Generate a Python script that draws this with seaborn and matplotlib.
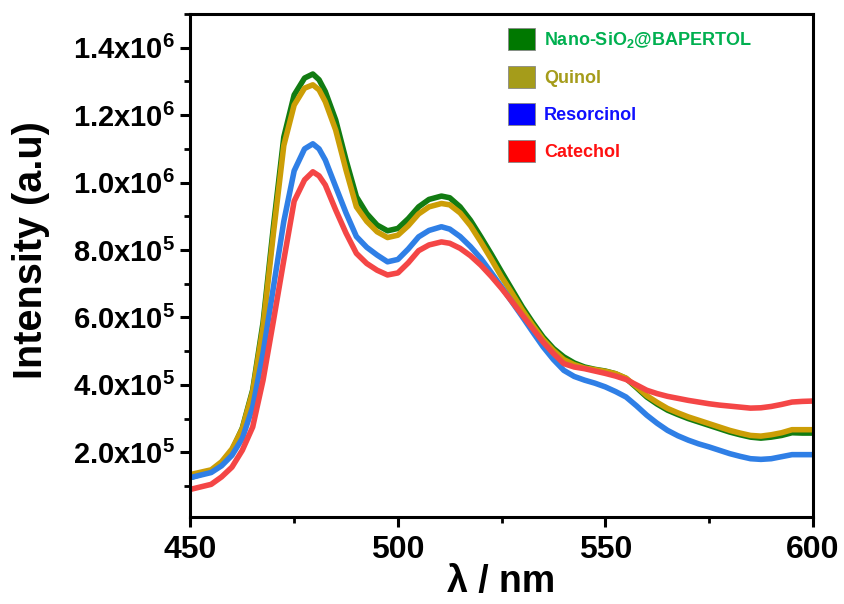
import matplotlib
matplotlib.use("Agg")
import matplotlib.pyplot as plt
from matplotlib.patches import Patch
from matplotlib.ticker import MultipleLocator, FuncFormatter
import numpy as np
import pandas as pd
import seaborn as sns

# Emission wavelengths (nm)
wavelength = [450, 455, 457.5, 460, 462.5, 465, 467.5, 470, 472.5, 475,
              477.5, 479.5, 481, 482.5, 485, 487.5, 490, 492.5, 495, 497.5,
              500, 502.5, 505, 507.5, 510.5, 512.5, 515, 517.5, 520, 522.5,
              525, 527.5, 530, 532.5, 535, 537.5, 540, 542.5, 545, 547.5,
              550, 552.5, 555, 557.5, 560, 562.5, 565, 567.5, 570, 572.5,
              575, 577.5, 580, 582.5, 585, 587.5, 590, 592.5, 595, 597.5, 600]

# Fluorescence intensity (a.u.) per sample
nano_sio2 = [1.25e5, 1.44e5, 1.65e5, 2.05e5, 2.72e5, 3.85e5, 5.85e5, 8.7e5, 1.135e6, 1.26e6,
             1.31e6, 1.322e6, 1.305e6, 1.27e6, 1.186e6, 1.067e6, 9.58e5, 9.08e5, 8.74e5, 8.57e5,
             8.64e5, 8.93e5, 9.28e5, 9.50e5, 9.60e5, 9.55e5, 9.28e5, 8.88e5, 8.39e5, 7.88e5,
             7.35e5, 6.83e5, 6.31e5, 5.85e5, 5.42e5, 5.08e5, 4.83e5, 4.65e5, 4.53e5, 4.46e5,
             4.41e5, 4.33e5, 4.19e5, 3.92e5, 3.64e5, 3.43e5, 3.25e5, 3.12e5, 3.0e5, 2.9e5,
             2.8e5, 2.7e5, 2.6e5, 2.52e5, 2.45e5, 2.42e5, 2.45e5, 2.5e5, 2.58e5, 2.57e5, 2.57e5]
quinol = [1.34e5, 1.48e5, 1.72e5, 2.1e5, 2.7e5, 3.8e5, 5.72e5, 8.5e5, 1.11e6, 1.23e6,
          1.28e6, 1.29e6, 1.275e6, 1.24e6, 1.156e6, 1.037e6, 9.28e5, 8.85e5, 8.54e5, 8.37e5,
          8.44e5, 8.72e5, 9.07e5, 9.28e5, 9.38e5, 9.34e5, 9.1e5, 8.72e5, 8.24e5, 7.73e5,
          7.2e5, 6.72e5, 6.22e5, 5.77e5, 5.35e5, 5.02e5, 4.75e5, 4.6e5, 4.5e5, 4.45e5,
          4.4e5, 4.33e5, 4.2e5, 3.95e5, 3.68e5, 3.48e5, 3.3e5, 3.17e5, 3.05e5, 2.95e5,
          2.85e5, 2.75e5, 2.65e5, 2.57e5, 2.5e5, 2.48e5, 2.52e5, 2.58e5, 2.67e5, 2.67e5, 2.67e5]
resorcinol = [1.25e5, 1.4e5, 1.6e5, 1.91e5, 2.41e5, 3.34e5, 4.94e5, 6.9e5, 8.85e5, 1.035e6,
              1.10e6, 1.115e6, 1.10e6, 1.067e6, 9.88e5, 9.1e5, 8.4e5, 8.08e5, 7.85e5, 7.65e5,
              7.72e5, 8.03e5, 8.39e5, 8.58e5, 8.69e5, 8.62e5, 8.4e5, 8.1e5, 7.75e5, 7.33e5,
              6.9e5, 6.46e5, 6.02e5, 5.57e5, 5.13e5, 4.75e5, 4.43e5, 4.25e5, 4.14e5, 4.05e5,
              3.94e5, 3.8e5, 3.64e5, 3.38e5, 3.1e5, 2.86e5, 2.65e5, 2.49e5, 2.36e5, 2.25e5,
              2.16e5, 2.06e5, 1.96e5, 1.88e5, 1.81e5, 1.79e5, 1.81e5, 1.87e5, 1.93e5, 1.93e5, 1.93e5]
catechol = [9.0e4, 1.05e5, 1.27e5, 1.56e5, 2.06e5, 2.75e5, 4.14e5, 5.9e5, 7.7e5, 9.45e5,
            1.008e6, 1.032e6, 1.02e6, 9.93e5, 9.19e5, 8.5e5, 7.9e5, 7.6e5, 7.4e5, 7.26e5,
            7.32e5, 7.62e5, 7.98e5, 8.15e5, 8.24e5, 8.2e5, 8.05e5, 7.83e5, 7.55e5, 7.22e5,
            6.86e5, 6.47e5, 6.07e5, 5.67e5, 5.27e5, 4.93e5, 4.63e5, 4.53e5, 4.48e5, 4.41e5,
            4.34e5, 4.26e5, 4.16e5, 4.0e5, 3.84e5, 3.74e5, 3.66e5, 3.6e5, 3.54e5, 3.49e5,
            3.44e5, 3.4e5, 3.37e5, 3.34e5, 3.31e5, 3.32e5, 3.36e5, 3.42e5, 3.49e5, 3.51e5, 3.52e5]

samples = ["Nano-SiO2@BAPERTOL", "Quinol", "Resorcinol", "Catechol"]
legend_labels = [r"Nano-SiO$_\mathbf{2}$@BAPERTOL", "Quinol", "Resorcinol", "Catechol"]
line_colors = ["#127c12", "#cc9e06", "#2f7fe6", "#f44646"]
patch_colors = ["#007800", "#a59c1a", "#0000ff", "#ff0000"]
text_colors = ["#00b050", "#a59c1a", "#1010ff", "#ff1010"]

frames = []
for name, vals in zip(samples, [nano_sio2, quinol, resorcinol, catechol]):
    frames.append(pd.DataFrame({"wavelength": wavelength, "intensity": vals, "sample": name}))
df = pd.concat(frames, ignore_index=True)

sns.set_theme(style="ticks")
plt.rcParams["font.family"] = ["Liberation Sans", "DejaVu Sans"]
plt.rcParams["font.weight"] = "bold"
plt.rcParams["text.color"] = "black"
plt.rcParams["axes.labelcolor"] = "black"
plt.rcParams["xtick.color"] = "black"
plt.rcParams["ytick.color"] = "black"
plt.rcParams["mathtext.fontset"] = "custom"
plt.rcParams["mathtext.rm"] = "Liberation Sans:bold"
plt.rcParams["mathtext.bf"] = "Liberation Sans:bold"
plt.rcParams["mathtext.it"] = "Liberation Sans:bold"
plt.rcParams["mathtext.default"] = "bf"

fig = plt.figure(figsize=(8.45, 6.04), dpi=100)
ax = fig.add_axes([0.2254, 0.144, 0.7364, 0.8328])

sns.lineplot(data=df, x="wavelength", y="intensity", hue="sample",
             hue_order=samples, palette=line_colors, linewidth=4.0,
             legend=False, ax=ax, sort=False)
for line in ax.get_lines():
    line.set_solid_joinstyle("round")
    line.set_solid_capstyle("round")

ax.set_xlim(450, 600)
ax.set_ylim(8e3, 1.5e6)
ax.xaxis.set_major_locator(MultipleLocator(50))
ax.xaxis.set_minor_locator(MultipleLocator(25))
ax.yaxis.set_major_locator(MultipleLocator(2e5))
ax.yaxis.set_minor_locator(MultipleLocator(1e5))


def sci_fmt(v, pos):
    if v <= 0:
        return ""
    exp = int(np.floor(np.log10(v) + 1e-9))
    mant = v / 10 ** exp
    return f"{mant:.1f}x10$^{{{exp}}}$"


ax.yaxis.set_major_formatter(FuncFormatter(sci_fmt))

for side in ["left", "bottom", "top", "right"]:
    ax.spines[side].set_linewidth(2.2)
    ax.spines[side].set_color("black")
ax.tick_params(axis="both", which="major", direction="out", length=7, width=2.2,
               color="black", labelcolor="black")
ax.tick_params(axis="both", which="minor", direction="out", length=4.5, width=2.0,
               color="black")
ax.tick_params(axis="x", labelsize=23, pad=6)
ax.tick_params(axis="y", labelsize=21, pad=4)
for lab in ax.get_xticklabels() + ax.get_yticklabels():
    lab.set_fontweight("bold")

ax.set_xlabel("λ / nm", fontsize=27, fontweight="bold", va="top")
ax.set_ylabel("Intensity (a.u)", fontsize=28.5, fontweight="bold")
ax.xaxis.set_label_coords(0.5, -0.094)
ax.yaxis.set_label_coords(-0.226, 0.53)

handles = [Patch(facecolor=c, edgecolor="#888888", linewidth=0.6) for c in patch_colors]
leg = ax.legend(handles, legend_labels, loc="upper left",
                bbox_to_anchor=(0.49, 0.997), frameon=False,
                handlelength=1.5, handleheight=1.5, handletextpad=0.5,
                labelspacing=0.85, borderpad=0.2, prop={"weight": "bold", "size": 13})
for txt, c in zip(leg.get_texts(), text_colors):
    txt.set_color(c)

fig.savefig("out.png", dpi=100, facecolor="white")
